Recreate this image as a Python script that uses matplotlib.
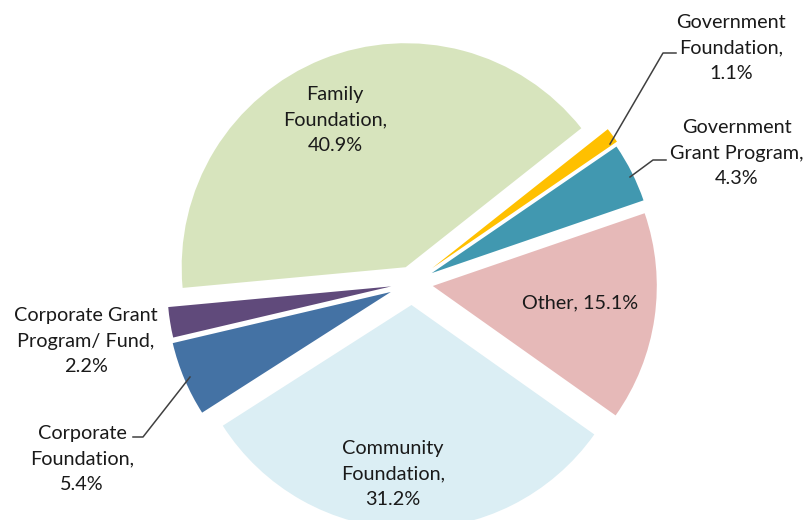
import matplotlib
matplotlib.use("Agg")
import matplotlib.pyplot as plt

categories = ["Family Foundation", "Government Foundation", "Government Grant Program",
              "Other", "Community Foundation", "Corporate Foundation", "Corporate Grant Program/ Fund"]
values = [40.9, 1.1, 4.3, 15.1, 31.2, 5.4, 2.2]
labels = ["Family\nFoundation,\n40.9%", "Government\nFoundation,\n1.1%", "Government\nGrant Program,\n4.3%",
          "Other, 15.1%", "Community\nFoundation,\n31.2%", "Corporate\nFoundation,\n5.4%",
          "Corporate Grant\nProgram/ Fund,\n2.2%"]
colors = ["#D7E4BD", "#FFC000", "#4198B0", "#E6B9B8", "#DBEEF4", "#4472A4", "#604A7B"]
explode_px = [17, 25, 22, 21, 22, 23, 21]

W, H = 806, 520
fig = plt.figure(figsize=(W / 100, H / 100), dpi=100)
ax = fig.add_axes([0, 0, 1, 1])

cx, cy, R = 412, H - 283, 224
ax.pie(values, colors=colors, explode=explode_px, startangle=185.3, counterclock=False,
       center=(cx, cy), radius=R, wedgeprops=dict(linewidth=0))

ax.set_xlim(0, W)
ax.set_ylim(0, H)
ax.set_aspect("equal")
ax.axis("off")

font = dict(family=["Lato", "DejaVu Sans"], fontsize=14.3, color="#1a1a1a",
            ha="center", va="center", linespacing=1.6)
label_pos = [(335, 120), (731, 48), (737, 153), (580, 303), (393, 474), (82, 459), (86, 341)]
for lab, (x, y) in zip(labels, label_pos):
    ax.text(x, H - y, lab, **font)

leaders = [
    [(610, 144), (663, 53), (676, 53)],
    [(630, 177), (653, 160), (666, 160)],
    [(190, 377), (143, 437), (133, 437)],
]
for pts in leaders:
    ax.plot([p[0] for p in pts], [H - p[1] for p in pts], color="#404040", lw=1.1)

fig.savefig("out.png", dpi=100)
